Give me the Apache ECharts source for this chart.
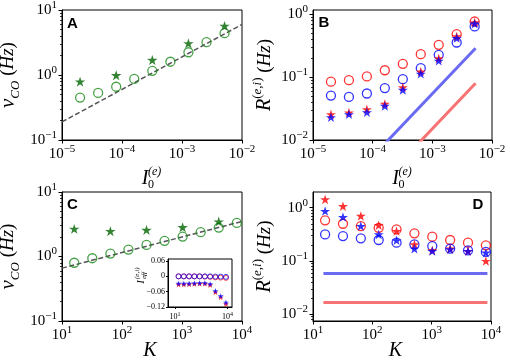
<!DOCTYPE html>
<html>
<head>
<meta charset="utf-8">
<script src="https://cdn.jsdelivr.net/npm/echarts@6/dist/echarts.min.js"></script>
<style>
html, body { margin: 0; padding: 0; background: #fff; }
#chart { width: 510px; height: 362px; }
</style>
</head>
<body>
<div id="chart"></div>
<script>
var SERIF = '"Liberation Serif", "DejaVu Serif", serif';
var SANS = '"Liberation Sans", Arial, sans-serif';

// panel A : nu_CO against I0(e)
var drive = [2e-5, 4e-5, 8e-5, 1.6e-4, 3.2e-4, 6.4e-4, 1.28e-3, 2.56e-3, 5.12e-3];
var nuCircA = [0.45, 0.53, 0.66, 0.87, 1.16, 1.60, 2.24, 3.20, 4.40];
var driveStar = [2e-5, 8e-5, 3.2e-4, 1.28e-3, 5.12e-3];
var nuStarA = [0.79, 0.99, 1.70, 3.07, 5.70];
var fitDriveA = [1e-5, 1e-2];
var fitNuA = [0.19, 6.0];

// panel B : R(e,i) against I0(e)
var redCircB = [0.085, 0.0895, 0.103, 0.129, 0.163, 0.233, 0.328, 0.485, 0.77];
var blueCircB = [0.051, 0.0485, 0.055, 0.067, 0.093, 0.139, 0.227, 0.357, 0.644];
var redStarB = [0.0257, 0.0273, 0.0308, 0.0375, 0.069, 0.123, 0.199, 0.446, 0.745];
var blueStarB = [0.023, 0.0257, 0.0276, 0.0349, 0.0628, 0.113, 0.182, 0.419, 0.71];
var blueLineDriveB = [1.5e-4, 5.3e-3];
var blueLineB = [0.0082, 0.289];
var redLineDriveB = [5e-4, 5.3e-3];
var redLineB = [0.00755, 0.080];

// panel C : nu_CO against K
var kVals = [16, 32, 64, 128, 256, 512, 1024, 2048, 4096, 8192];
var nuCircC = [0.80, 0.94, 1.11, 1.28, 1.51, 1.75, 2.04, 2.38, 2.81, 3.32];
var kStar = [16, 64, 256, 1024, 4096];
var nuStarC = [2.68, 2.47, 2.58, 2.84, 3.48];
var fitK = [10, 1e4];
var fitNuC = [0.66, 3.5];

// inset of C : I_eff(e,i) against K
var ieffBlueCirc = [0, 0, 0, 0, 0, 0, 0, -0.001, -0.001, -0.002];
var ieffRedCirc = [0, 0, 0, 0, 0, -0.001, -0.002, -0.004, -0.005, -0.006];
var ieffBlueStar = [-0.028, -0.028, -0.028, -0.027, -0.026, -0.026, -0.030, -0.057, -0.077, -0.102];
var ieffRedStar = [-0.032, -0.032, -0.031, -0.030, -0.029, -0.029, -0.034, -0.062, -0.082, -0.108];

// panel D : R(e,i) against K
var redStarD = [1.43, 1.07, 0.70, 0.47, 0.365, 0.205, 0.158, 0.17, 0.154, 0.100];
var blueStarD = [0.866, 0.668, 0.453, 0.316, 0.244, 0.170, 0.154, 0.166, 0.154, 0.143];
var redCircD = [0.579, 0.50, 0.453, 0.42, 0.392, 0.33, 0.286, 0.248, 0.221, 0.197];
var blueCircD = [0.316, 0.294, 0.266, 0.248, 0.221, 0.205, 0.191, 0.170, 0.158, 0.148];
var lineKD = [15, 8700];
var blueLineD = [0.058, 0.058];
var redLineD = [0.0166, 0.0166];

// tick exponents
var expDrive = [-5, -4, -3, -2];
var expK = [1, 2, 3, 4];
var expNu = [-1, 0, 1];
var expR = [-2, -1, 0];
var insetK = [1, 4];
var insetTicks = [-0.12, -0.06, 0, 0.06];

var STAR = 'path://M0,-10L2.245,-3.09L9.511,-3.09L3.633,1.18L5.878,8.09L0,3.82L-5.878,8.09L-3.633,1.18L-9.511,-3.09L-2.245,-3.09Z';

function logPts(xs, ys) {
    return xs.map(function (x, i) { return [Math.log10(x), Math.log10(ys[i])]; });
}
function semiPts(xs, ys) {
    return xs.map(function (x, i) { return [Math.log10(x), ys[i]]; });
}
function powLabel(v) {
    var e = Math.round(v);
    return '{b|10}{s|' + (e < 0 ? '\u2212' + (-e) : e) + '}';
}
var tickRich = {
    b: { fontFamily: SERIF, fontSize: 15, lineHeight: 21, verticalAlign: 'middle', color: '#000' },
    s: { fontFamily: SERIF, fontSize: 11, lineHeight: 12, verticalAlign: 'top', color: '#000' }
};
var smallRich = {
    b: { fontFamily: SERIF, fontSize: 8, lineHeight: 11, verticalAlign: 'middle', color: '#000' },
    s: { fontFamily: SERIF, fontSize: 6, lineHeight: 6, verticalAlign: 'top', color: '#000' }
};
function minorTicks(lo, hi) {
    var out = [];
    for (var k = Math.floor(lo); k <= Math.ceil(hi); k++) {
        for (var m = 2; m <= 9; m++) {
            var v = k + Math.log10(m);
            if (v > lo && v < hi) out.push(v);
        }
    }
    return out;
}

function xAxisLog(grid, min, max, ticks, rich, size) {
    return {
        type: 'value', gridIndex: grid, min: min, max: max,
        axisLine: { onZero: false, lineStyle: { color: '#000', width: 1 } },
        axisTick: { length: size || 3.5, customValues: ticks, lineStyle: { color: '#000' } },
        axisLabel: { customValues: ticks, margin: 4, formatter: powLabel, rich: rich || tickRich },
        splitLine: { show: false }
    };
}
function yAxisLog(grid, min, max, ticks, name, nameRich, gap) {
    return {
        type: 'value', gridIndex: grid, min: min, max: max, position: 'left',
        name: name, nameLocation: 'middle', nameRotate: 90, nameGap: gap,
        nameTextStyle: { rich: nameRich },
        axisLine: { onZero: false, lineStyle: { color: '#000', width: 1 } },
        axisTick: { length: 3.5, customValues: ticks, lineStyle: { color: '#000' } },
        axisLabel: { customValues: ticks, margin: 5, formatter: powLabel, rich: tickRich },
        splitLine: { show: false }
    };
}
function yAxisMinor(grid, min, max) {
    return {
        type: 'value', gridIndex: grid, min: min, max: max, position: 'left', offset: 0,
        axisLine: { show: false, onZero: false },
        axisTick: { length: 2, customValues: minorTicks(min, max), lineStyle: { color: '#000', width: 0.8 } },
        axisLabel: { show: false },
        splitLine: { show: false }
    };
}

function circles(data, color, xi, yi, size) {
    return {
        type: 'scatter', xAxisIndex: xi, yAxisIndex: yi, data: data, symbol: 'circle', symbolSize: size,
        itemStyle: { color: 'rgba(0,0,0,0)', borderColor: color, borderWidth: size > 6 ? 1.3 : 0.9 },
        silent: true, z: 3
    };
}
function stars(data, color, xi, yi, size) {
    return {
        type: 'scatter', xAxisIndex: xi, yAxisIndex: yi, data: data, symbol: STAR,
        symbolSize: [size, size * 0.95], itemStyle: { color: color }, silent: true, z: 4
    };
}
function line(data, color, width, dashed, xi, yi) {
    return {
        type: 'line', xAxisIndex: xi, yAxisIndex: yi, data: data, symbol: 'none', clip: true,
        lineStyle: { color: color, width: width, type: dashed ? [5, 2.5] : 'solid' },
        silent: true, z: 2
    };
}

var nuRich = {
    v: { fontFamily: SERIF, fontStyle: 'italic', fontSize: 21, lineHeight: 28, verticalAlign: 'middle', color: '#000' },
    c: { fontFamily: SERIF, fontStyle: 'italic', fontSize: 13, lineHeight: 13, verticalAlign: 'bottom', color: '#000' },
    p: { fontFamily: SERIF, fontSize: 19, lineHeight: 28, verticalAlign: 'middle', color: '#000' },
    h: { fontFamily: SERIF, fontStyle: 'italic', fontSize: 19, lineHeight: 28, verticalAlign: 'middle', color: '#000' }
};
var rRich = {
    v: { fontFamily: SERIF, fontStyle: 'italic', fontSize: 20, lineHeight: 28, verticalAlign: 'middle', color: '#000' },
    sp: { fontFamily: SERIF, fontSize: 13, lineHeight: 13, verticalAlign: 'top', color: '#000' },
    se: { fontFamily: SERIF, fontStyle: 'italic', fontSize: 13, lineHeight: 13, verticalAlign: 'top', color: '#000' },
    p: { fontFamily: SERIF, fontSize: 19, lineHeight: 28, verticalAlign: 'middle', color: '#000' },
    h: { fontFamily: SERIF, fontStyle: 'italic', fontSize: 19, lineHeight: 28, verticalAlign: 'middle', color: '#000' }
};
var nuName = '{v|\u03bd}{c|CO}{p| (}{h|Hz}{p|)}';
var rName = '{v|R}{sp|(}{se|e}{sp|,}{se|i}{sp|)}{p| (}{h|Hz}{p|)}';

function txt(text, x, y, size, italic, align) {
    return {
        type: 'text', x: x, y: y,
        style: {
            text: text, fontFamily: SERIF, fontSize: size, fontStyle: italic ? 'italic' : 'normal',
            fill: '#000', align: align || 'center', verticalAlign: 'middle'
        }
    };
}
function letter(text, x, y) {
    return {
        type: 'text', x: x, y: y,
        style: { text: text, fontFamily: SANS, fontSize: 15, fontWeight: 'bold', fill: '#000', align: 'center', verticalAlign: 'middle' }
    };
}
function driveTitle(cx, cy) {
    return {
        type: 'group', x: cx, y: cy,
        children: [
            txt('I', -7, 0, 20, true),
            txt('(e)', -4, -6.5, 12, true, 'left'),
            txt('0', -4, 6, 12, false, 'left')
        ]
    };
}
function ieffTitle(cx, cy) {
    return {
        type: 'group', x: cx, y: cy, rotation: Math.PI / 2,
        children: [
            txt('I', -7, 0, 11, true),
            txt('(e,i)', -4, -4, 7, true, 'left'),
            txt('eff', -4, 3.5, 7, true, 'left')
        ]
    };
}

var myChart = echarts.init(document.getElementById('chart'), null, { renderer: 'canvas' });
var gridStyle = { show: true, borderColor: '#000', borderWidth: 1, backgroundColor: '#fff', outerBoundsMode: 'none' };

var option = {
    animation: false,
    backgroundColor: '#fff',
    grid: [
        Object.assign({ left: 62, top: 10, width: 180, height: 130 }, gridStyle),
        Object.assign({ left: 313, top: 10, width: 179, height: 130 }, gridStyle),
        Object.assign({ left: 62, top: 192, width: 180, height: 129 }, gridStyle),
        Object.assign({ left: 313, top: 192, width: 178, height: 129 }, gridStyle),
        Object.assign({ left: 168, top: 259, width: 64, height: 48, z: 5 }, gridStyle)
    ],
    xAxis: [
        xAxisLog(0, -5, -2, expDrive),
        xAxisLog(1, -5, -2, expDrive),
        xAxisLog(2, 1, 4, expK),
        xAxisLog(3, 1, 4, expK),
        Object.assign(xAxisLog(4, 0.6, 4.26, insetK, smallRich, 2), { z: 6 })
    ],
    yAxis: [
        yAxisLog(0, -1, 1, expNu, nuName, nuRich, 40),
        yAxisMinor(0, -1, 1),
        yAxisLog(1, -2, 0.07, expR, rName, rRich, 34),
        yAxisMinor(1, -2, 0.07),
        yAxisLog(2, -1, 1, expNu, nuName, nuRich, 40),
        yAxisMinor(2, -1, 1),
        yAxisLog(3, -2.126, 0.295, expR, rName, rRich, 34),
        yAxisMinor(3, -2.126, 0.295),
        {
            type: 'value', gridIndex: 4, min: -0.12, max: 0.068, z: 6,
            axisLine: { onZero: false, lineStyle: { color: '#000', width: 1 } },
            axisTick: { length: 2, customValues: insetTicks, lineStyle: { color: '#000' } },
            axisLabel: {
                customValues: insetTicks, margin: 3, fontFamily: SERIF, fontSize: 8, color: '#000',
                formatter: function (v) {
                    if (Math.abs(v) < 1e-9) return '0';
                    return (v < 0 ? '\u2212' : '') + Math.abs(v).toFixed(2);
                }
            },
            splitLine: { show: false }
        }
    ],
    series: [
        // A
        line(logPts(fitDriveA, fitNuA), '#555', 1.5, true, 0, 0),
        circles(logPts(drive, nuCircA), '#1a8a1a', 0, 0, 9),
        stars(logPts(driveStar, nuStarA), '#006400', 0, 0, 10.5),
        // B
        line(logPts(blueLineDriveB, blueLineB), '#6a6af2', 3, false, 1, 2),
        line(logPts(redLineDriveB, redLineB), '#f77272', 3, false, 1, 2),
        circles(logPts(drive, redCircB), '#ff0000', 1, 2, 9),
        circles(logPts(drive, blueCircB), '#0000ff', 1, 2, 9),
        stars(logPts(drive, redStarB), '#ff0000', 1, 2, 10),
        stars(logPts(drive, blueStarB), '#0000ff', 1, 2, 10),
        // C
        line(logPts(fitK, fitNuC), '#555', 1.5, true, 2, 4),
        circles(logPts(kVals, nuCircC), '#1a8a1a', 2, 4, 9),
        stars(logPts(kStar, nuStarC), '#006400', 2, 4, 10.5),
        // inset
        Object.assign(circles(semiPts(kVals, ieffRedCirc), '#ff0000', 4, 8, 5), { z: 7 }),
        Object.assign(circles(semiPts(kVals, ieffBlueCirc), '#0000ff', 4, 8, 5), { z: 7 }),
        Object.assign(stars(semiPts(kVals, ieffRedStar), '#ff0000', 4, 8, 6), { z: 8 }),
        Object.assign(stars(semiPts(kVals, ieffBlueStar), '#0000ff', 4, 8, 6), { z: 8 }),
        // D
        line(logPts(lineKD, blueLineD), '#6a6af2', 3, false, 3, 6),
        line(logPts(lineKD, redLineD), '#f77272', 3, false, 3, 6),
        circles(logPts(kVals, redCircD), '#ff0000', 3, 6, 9),
        circles(logPts(kVals, blueCircD), '#0000ff', 3, 6, 9),
        stars(logPts(kVals, redStarD), '#ff0000', 3, 6, 10),
        stars(logPts(kVals, blueStarD), '#0000ff', 3, 6, 10)
    ],
    graphic: [
        letter('A', 72.5, 23.5),
        letter('B', 324, 22.5),
        letter('C', 72.5, 204.5),
        letter('D', 478, 204.5),
        driveTitle(152, 178.5),
        driveTitle(402.5, 178.5),
        txt('K', 150, 351, 20, true),
        txt('K', 395.5, 351, 20, true),
        ieffTitle(141, 275)
    ]
};
option && myChart.setOption(option);
</script>
</body>
</html>
